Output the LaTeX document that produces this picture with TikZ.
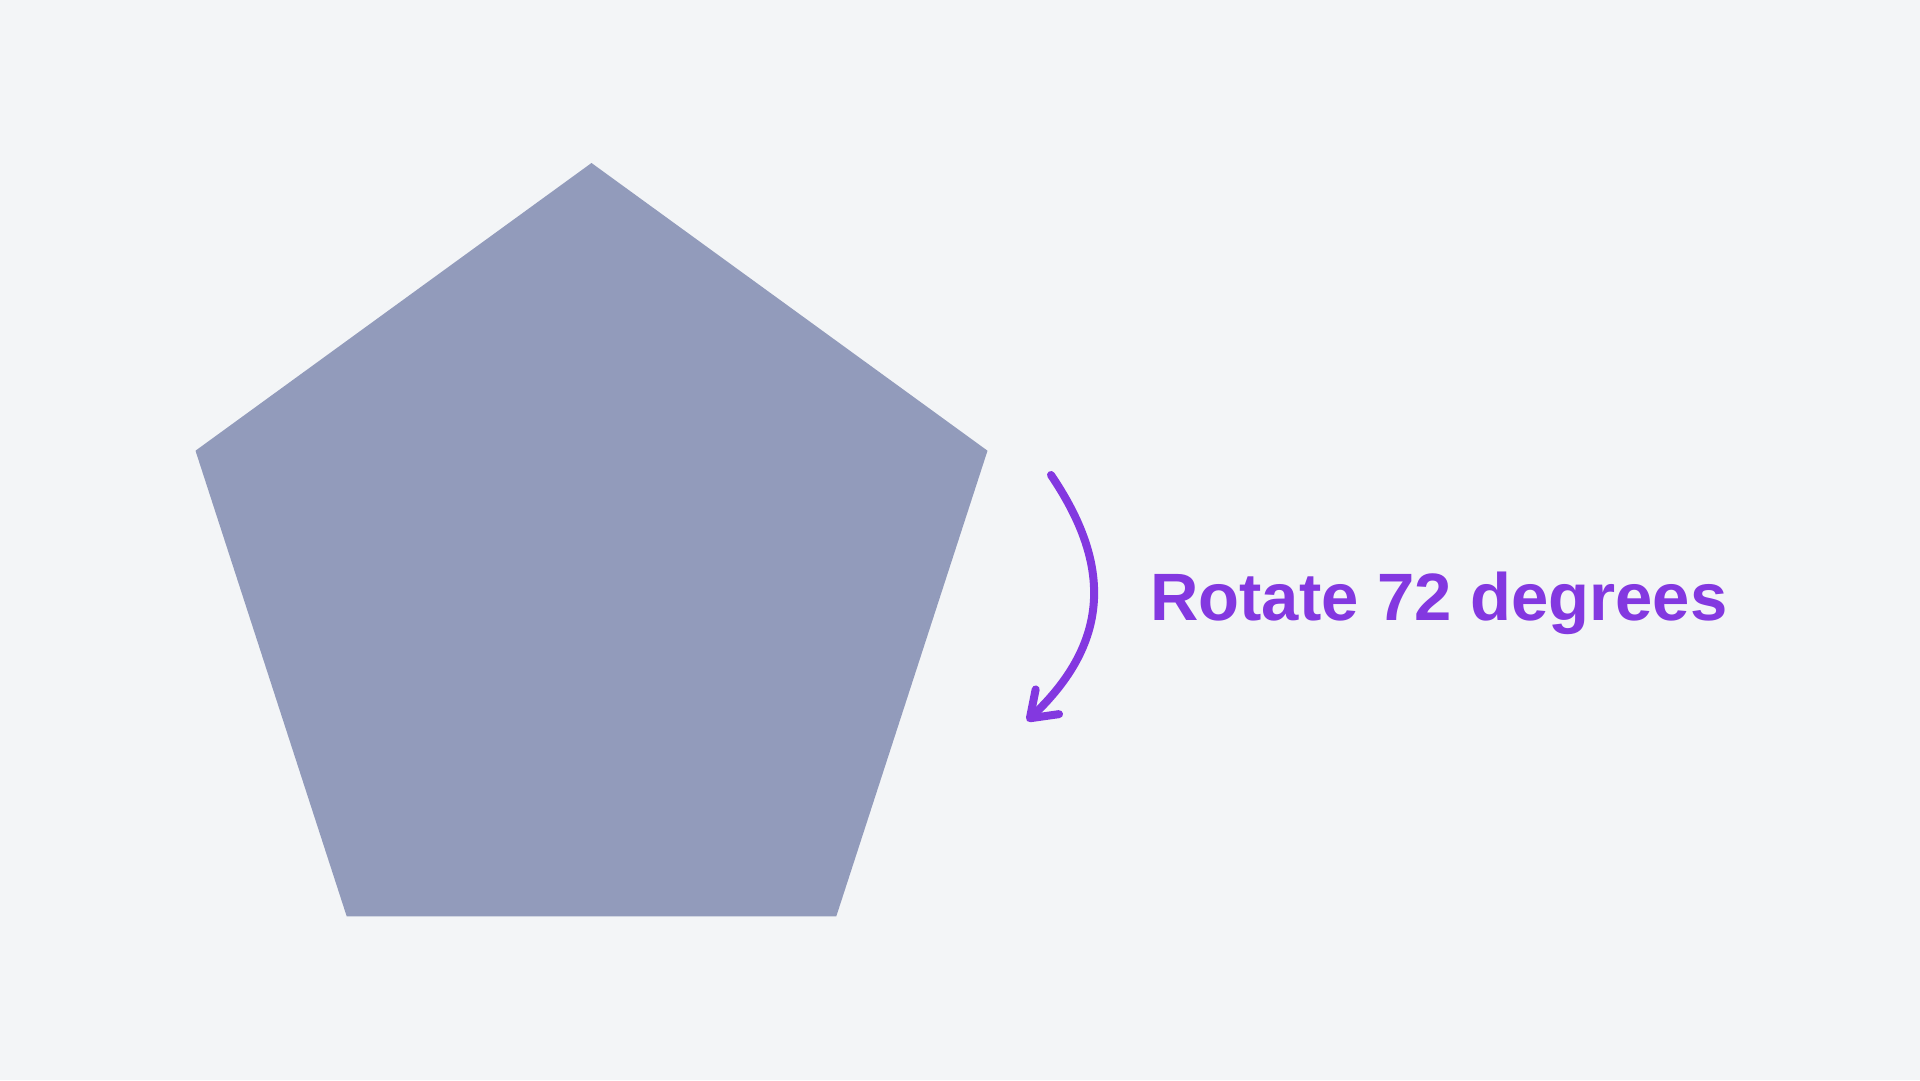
\documentclass[tikz,border=0pt]{standalone}
\usepackage{fontspec}
\setmainfont{Liberation Sans}
\usetikzlibrary{arrows.meta}
\definecolor{bgc}{HTML}{F3F5F7}
\definecolor{pentc}{HTML}{929BBB}
\definecolor{purp}{HTML}{8338E0}
\tikzset{
  pentfill/.style={fill=pentc, draw=none},
  rotarrow/.style={draw=purp, line width=8pt, line cap=round,
    -{Straight Barb[length=24pt, width=34pt, line width=8pt, round]}},
  label/.style={text=purp, font=\bfseries\fontsize{67}{80}\selectfont, anchor=base west, inner sep=0pt}
}
\begin{document}
\begin{tikzpicture}[x=1pt, y=-1pt]
  \fill[bgc] (0,0) rectangle (1920,1080);
  \useasboundingbox (0,0) rectangle (1920,1080);
  \coordinate (top) at (591.5,163);
  \coordinate (right) at (987.5,450.7);
  \coordinate (bright) at (836.3,916.3);
  \coordinate (bleft) at (346.7,916.3);
  \coordinate (left) at (195.5,450.7);
  \path[pentfill] (top) -- (right) -- (bright) -- (bleft) -- (left) -- cycle;
  \coordinate (astart) at (1051,475);
  \coordinate (aend) at (1027,721);
  \draw[rotarrow] (astart) .. controls (1105,555) and (1118,635) .. (aend);
  \node[label] (txt) at (1150,620) {Rotate 72 degrees};
\end{tikzpicture}
\end{document}
